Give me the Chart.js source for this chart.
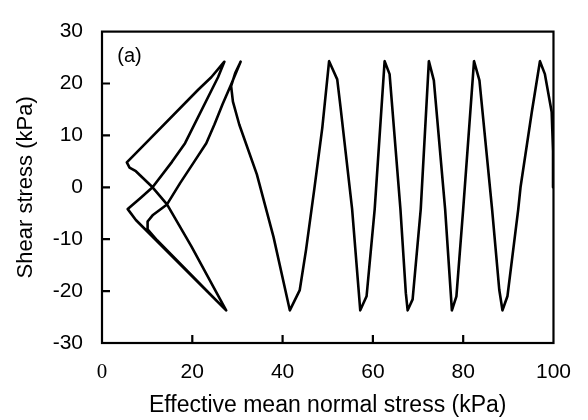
<!DOCTYPE html>
<html>
<head>
<meta charset="utf-8">
<script src="https://cdn.jsdelivr.net/npm/chart.js@4/dist/chart.umd.min.js"></script>
<style>
  html, body { margin: 0; padding: 0; background: #fff; }
  #wrap { width: 588px; height: 420px; }
</style>
</head>
<body>
<div id="wrap"><canvas id="c" width="588" height="420"></canvas></div>
<script>
// Stress path, in time order (effective mean normal stress p', shear stress q), kPa
const effectiveMeanStress = [
  100.0, 99.9, 99.6, 98.1, 97.0, 95.2, 92.7, 92.2, 89.8, 88.7,
  88.0, 86.4, 83.6, 82.4, 81.2, 80.0, 78.5, 77.5, 76.0, 73.5,
  72.4, 70.6, 68.8, 67.7, 67.3, 66.1, 63.7, 62.6, 60.4, 58.6,
  57.2, 55.4, 52.8, 52.1, 50.3, 48.8, 47.0, 45.2, 43.8, 41.6,
  38.0, 34.3, 30.4, 29.0, 28.6, 29.5, 30.7, 28.6, 26.7, 24.9,
  23.1, 20.4, 17.3, 14.4, 11.2, 10.1, 10.1, 12.2, 27.5, 7.5,
  5.7, 8.6, 11.2, 15.5, 18.4, 25.7, 27.1, 24.2, 21.3, 9.7,
  5.5, 6.1, 7.5, 11.2, 14.4, 19.8, 27.5
];
const shearStress = [
  0.0, 7.0, 14.5, 21.8, 24.3, 14.5, 0.0, -4.2, -21.0, -23.7,
  -19.8, -4.2, 20.6, 24.3, 10.0, -4.2, -21.0, -23.7, -4.2, 20.6,
  24.3, -4.2, -21.6, -23.7, -20.4, -4.2, 21.8, 24.3, -4.2, -21.0,
  -23.7, -4.2, 15.7, 20.8, 24.3, 11.5, -0.5, -12.0, -19.8, -23.7,
  -9.6, 2.5, 12.1, 16.5, 19.5, 22.0, 24.2, 19.8, 16.0, 12.1,
  8.5, 4.9, 0.8, -3.3, -5.4, -6.6, -8.1, -10.2, -23.7, -6.3,
  -4.2, -2.0, 0.0, 4.9, 8.5, 21.2, 24.2, 21.2, 18.8, 8.5,
  4.8, 3.8, 3.1, 0.0, -3.3, -11.4, -23.7
];
const xTickValues = [0, 20, 40, 60, 80, 100];
const yTickValues = [-30, -20, -10, 0, 10, 20, 30];
const xTitle = 'Effective mean normal stress (kPa)';
const yTitle = 'Shear stress (kPa)';
const panelLabel = '(a)';

const points = effectiveMeanStress.map((p, i) => ({ x: p, y: shearStress[i] }));

const FONT = "'Liberation Sans', Arial, Helvetica, sans-serif";

const frameAndTicks = {
  id: 'frameAndTicks',
  afterDraw(chart) {
    const { ctx, chartArea: a, scales: { x, y } } = chart;
    ctx.save();
    ctx.strokeStyle = '#000';
    ctx.lineWidth = 2.2;
    ctx.strokeRect(a.left, a.top, a.right - a.left, a.bottom - a.top);
    ctx.beginPath();
    yTickValues.forEach(v => {
      if (v > y.min && v < y.max) {
        const py = y.getPixelForValue(v);
        ctx.moveTo(a.left, py); ctx.lineTo(a.left + 8, py);
      }
    });
    xTickValues.forEach(v => {
      if (v > x.min && v < x.max) {
        const px = x.getPixelForValue(v);
        ctx.moveTo(px, a.bottom); ctx.lineTo(px, a.bottom - 8);
      }
    });
    ctx.stroke();
    ctx.fillStyle = '#000';
    ctx.font = '20px ' + FONT;
    ctx.textAlign = 'center';
    ctx.textBaseline = 'middle';
    ctx.fillText(panelLabel, x.getPixelForValue(6.1), y.getPixelForValue(25.3));
    ctx.restore();
  }
};

new Chart(document.getElementById('c'), {
  type: 'scatter',
  data: {
    datasets: [{
      data: points,
      showLine: true,
      borderColor: '#000',
      borderWidth: 2.6,
      pointRadius: 0,
      pointHoverRadius: 0,
      tension: 0,
      fill: false,
      borderJoinStyle: 'round',
      borderCapStyle: 'round'
    }]
  },
  options: {
    responsive: false,
    devicePixelRatio: 1,
    animation: false,
    events: [],
    layout: { padding: { left: 0, top: 11, right: 26, bottom: 0 } },
    plugins: { legend: { display: false }, tooltip: { enabled: false } },
    scales: {
      x: {
        type: 'linear',
        min: 0, max: 100,
        afterBuildTicks: s => { s.ticks = xTickValues.map(v => ({ value: v })); },
        afterFit: s => { s.height = 77; },
        grid: { display: false, drawTicks: false },
        border: { display: false },
        ticks: {
          color: '#000',
          padding: 17,
          maxRotation: 0,
          autoSkip: false,
          font: ctx => (ctx.tick && ctx.tick.value === 0)
            ? { family: "'Liberation Serif', 'Times New Roman', serif", size: 21 }
            : { family: FONT, size: 21 }
        },
        title: {
          display: true,
          text: xTitle,
          color: '#000',
          font: { family: FONT, size: 23 },
          padding: { top: 0, bottom: 1 }
        }
      },
      y: {
        type: 'linear',
        min: -30, max: 30,
        afterBuildTicks: s => { s.ticks = yTickValues.map(v => ({ value: v })); },
        afterFit: s => { s.width = 102; },
        grid: { display: false, drawTicks: false },
        border: { display: false },
        ticks: {
          color: '#000',
          padding: 19,
          autoSkip: false,
          font: { family: FONT, size: 21 }
        },
        title: {
          display: true,
          text: yTitle,
          color: '#000',
          font: { family: FONT, size: 22 },
          padding: { top: 13, bottom: 0 }
        }
      }
    }
  },
  plugins: [frameAndTicks]
});
</script>
</body>
</html>
